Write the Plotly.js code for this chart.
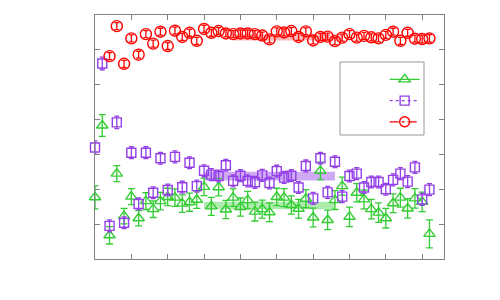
<!DOCTYPE html>
<html>
<head>
<meta charset="utf-8">
<script src="https://cdn.plot.ly/plotly-3.0.1.min.js"></script>
<style>html,body{margin:0;padding:0;background:#fff;}#chart{width:500px;height:300px;}</style>
</head>
<body>
<div id="chart"></div>
<script>
// ---- data ----
const greenX = [0,1,2,3,4,5,6,7,8,9,10,11,12,13,14,15,16,17,18,19,20,21,22,23,24,25,26,27,28,29,30,31,32,33,34,35,36,37,38,39,40,41,42,43,44,45,46];
const greenY = [1.77,3.83,0.68,2.45,1.23,1.79,1.17,1.66,1.43,1.66,1.78,1.76,1.59,1.63,1.70,2.07,1.51,2.06,1.42,1.76,1.49,1.69,1.36,1.43,1.34,1.78,1.76,1.55,1.44,1.73,1.19,2.53,1.12,1.69,2.09,1.21,1.90,1.71,1.43,1.33,1.17,1.60,1.76,1.45,1.74,1.64,0.72];
const greenErr = [0.33,0.31,0.25,0.23,0.22,0.23,0.22,0.24,0.24,0.25,0.25,0.25,0.25,0.26,0.25,0.25,0.26,0.25,0.26,0.25,0.26,0.25,0.27,0.26,0.27,0.25,0.26,0.26,0.27,0.26,0.27,0.25,0.28,0.27,0.26,0.28,0.26,0.27,0.28,0.28,0.28,0.27,0.27,0.28,0.28,0.28,0.40];

const purpleX = greenX;
const purpleY = [3.20,5.61,0.95,3.92,1.04,3.05,1.58,3.05,1.90,2.89,1.98,2.93,2.06,2.76,2.09,2.53,2.42,2.38,2.69,2.24,2.39,2.24,2.20,2.40,2.18,2.52,2.34,2.39,2.05,2.67,1.74,2.89,1.91,2.79,1.79,2.38,2.45,2.05,2.21,2.21,2.00,2.27,2.45,2.22,2.63,1.71,1.99];
const purpleErr = [0.19,0.18,0.17,0.18,0.17,0.17,0.17,0.17,0.17,0.17,0.17,0.17,0.17,0.17,0.17,0.17,0.17,0.17,0.17,0.17,0.17,0.17,0.17,0.17,0.17,0.17,0.17,0.17,0.17,0.17,0.17,0.17,0.17,0.17,0.17,0.17,0.17,0.17,0.17,0.17,0.17,0.17,0.17,0.17,0.17,0.17,0.17];

const redX = [2,3,4,5,6,7,8,9,10,11,12,13,14,15,16,17,18,19,20,21,22,23,24,25,26,27,28,29,30,31,32,33,34,35,36,37,38,39,40,41,42,43,44,45,46];
const redY = [5.82,6.68,5.60,6.33,5.86,6.45,6.18,6.52,6.11,6.55,6.37,6.49,6.26,6.60,6.49,6.54,6.47,6.45,6.47,6.47,6.45,6.41,6.30,6.53,6.50,6.54,6.37,6.53,6.27,6.37,6.38,6.25,6.35,6.45,6.35,6.40,6.36,6.33,6.43,6.52,6.26,6.49,6.32,6.31,6.33];
const redErr = [0.10,0.10,0.10,0.10,0.10,0.10,0.10,0.10,0.10,0.10,0.10,0.10,0.10,0.10,0.10,0.10,0.10,0.10,0.10,0.10,0.10,0.10,0.10,0.10,0.10,0.10,0.10,0.10,0.10,0.10,0.10,0.10,0.10,0.10,0.10,0.10,0.10,0.10,0.10,0.10,0.10,0.10,0.10,0.11,0.11,0.12,0.15];

// fitted plateau bands: [xStart, xEnd], [low, high]
const greenBandX = [15, 33];
const greenBandY = [1.43, 1.64];
const purpleBandX = [15, 33];
const purpleBandY = [2.25, 2.50];
const redBandX = [19, 34];
const redBandY = [6.27, 6.45];

// ---- styles ----
const GREEN = '#33cc33';
const PURPLE = '#9440e8';
const RED = '#ff0000';

function band(bx, by, color) {
  return {
    x: [bx[0], bx[1], bx[1], bx[0]],
    y: [by[0], by[0], by[1], by[1]],
    fill: 'toself', fillcolor: color, mode: 'lines',
    line: {width: 0}, hoverinfo: 'skip', showlegend: false
  };
}

function series(x, y, err, color, symbol, size, capw) {
  return {
    x: x, y: y, mode: 'markers', showlegend: false, cliponaxis: false,
    marker: {symbol: symbol, size: size, color: color, line: {color: color, width: 1.4}},
    error_y: {type: 'data', array: err, visible: true, color: color, thickness: 1.3, width: capw}
  };
}

function legendKey(color, symbol, size, dash) {
  return {
    x: [null], y: [null], mode: 'lines+markers', name: ' ', showlegend: true,
    line: {color: color, width: 1.3, dash: dash},
    marker: {symbol: symbol, size: size, color: color, line: {color: color, width: 1.4}}
  };
}

const traces = [
  band(redBandX, redBandY, 'rgba(255,0,0,0.28)'),
  band(purpleBandX, purpleBandY, 'rgba(148,64,232,0.45)'),
  band(greenBandX, greenBandY, 'rgba(51,204,51,0.40)'),
  series(greenX, greenY, greenErr, GREEN, 'triangle-up-open', 10, 3.5),
  series(purpleX, purpleY, purpleErr, PURPLE, 'square-open', 9, 2.5),
  series(redX, redY, redErr, RED, 'circle-open', 11, 2.5),
  legendKey(GREEN, 'triangle-up-open', 10, 'solid'),
  legendKey(PURPLE, 'square-open', 9, 'dot'),
  legendKey(RED, 'circle-open', 10, 'dashdot')
];

const axisCommon = {
  showgrid: false, zeroline: false, showticklabels: false,
  ticks: 'inside', ticklen: 5, tickwidth: 1, tickcolor: '#808080',
  showline: true, linecolor: '#808080', linewidth: 1, mirror: 'ticks'
};

const layout = {
  width: 500, height: 300,
  margin: {l: 95, r: 56, t: 15, b: 41},
  paper_bgcolor: '#ffffff', plot_bgcolor: '#ffffff',
  xaxis: Object.assign({range: [0, 48], tick0: 0, dtick: 5}, axisCommon),
  yaxis: Object.assign({range: [0, 7], tick0: 0, dtick: 1}, axisCommon),
  showlegend: true,
  legend: {
    x: 0.83, y: 0.80, xanchor: 'left', yanchor: 'top',
    bgcolor: 'rgba(0,0,0,0)', borderwidth: 0,
    font: {family: 'DejaVu Sans', size: 14}
  },
  shapes: [{
    type: 'rect', xref: 'paper', yref: 'paper',
    x0: 0.702, x1: 0.9427, y0: 0.5082, y1: 0.8074,
    line: {color: '#999999', width: 1}, fillcolor: '#ffffff', layer: 'below'
  }]
};

Plotly.newPlot('chart', traces, layout, {staticPlot: true, displayModeBar: false});
</script>
</body>
</html>
